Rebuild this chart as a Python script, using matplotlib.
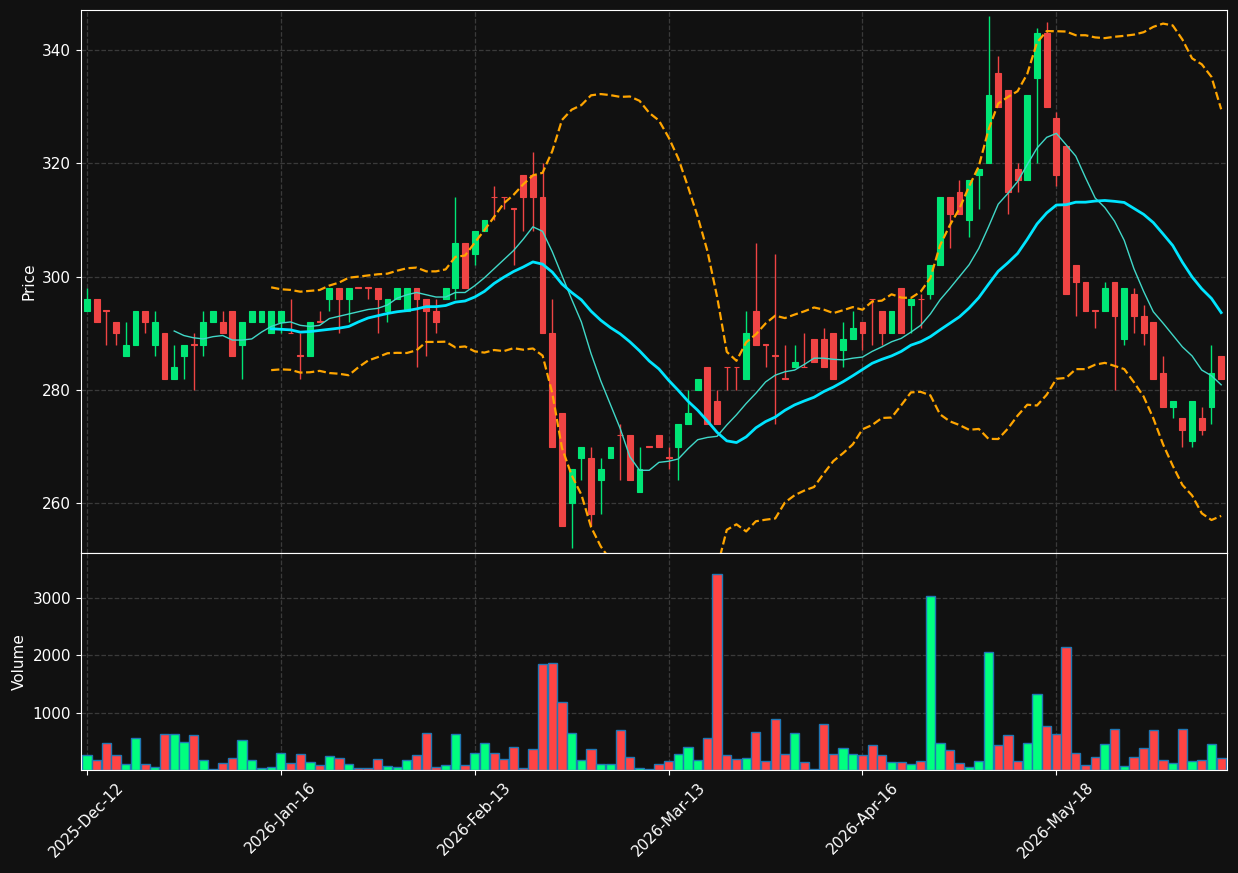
import matplotlib
matplotlib.use("Agg")
import matplotlib.pyplot as plt
import numpy as np
import pandas as pd

# OHLCV, one entry per candle
opens = [294, 296, 294.1, 292, 286, 288, 294, 288, 290, 282,
         286, 288.1, 288, 292, 292, 294, 288, 292, 292, 290,
         292, 290.1, 286.1, 286, 292.1, 296, 298, 296, 298.1, 298.1,
         298, 294, 296, 294, 298, 296, 294, 296, 298, 306,
         304, 308, 314.1, 314.1, 312.1, 318, 318, 314, 290, 276,
         260, 268, 268, 264, 268, 272.1, 272, 262, 270.1, 272,
         268.1, 270, 274, 280, 284, 278, 284.1, 284.1, 282, 294,
         288.1, 286.1, 282.1, 284, 284.1, 289, 289, 290, 287, 289,
         292, 296.1, 294, 290, 298, 295, 296.1, 297, 302, 314,
         315, 310, 318, 320, 336, 333, 319, 317, 335, 343,
         328, 323, 302, 299, 294.1, 294, 299, 289, 297, 293,
         292, 283, 277, 275, 271, 275, 277, 286]
highs = [298, 296, 294.1, 292, 292, 294, 294, 294, 290, 288,
         288, 290, 294, 294, 294, 294, 292, 294, 294, 294,
         294, 296, 290, 292, 294, 298, 298, 298, 298.1, 298.1,
         298, 296, 298, 298, 298, 296, 296, 298, 314, 306,
         308, 310, 316, 314.1, 312.1, 318, 322, 320, 296, 276,
         266, 270, 270, 268, 270, 274, 272, 270, 270.1, 272,
         270, 274, 280, 282, 284, 280, 284.1, 284.1, 294, 306,
         288.1, 304, 288, 288, 290, 289, 291, 290, 292, 294,
         292, 296.1, 294, 294, 298, 296, 297, 302, 314, 314,
         317, 317, 319, 346, 339, 333, 320, 332, 344, 345,
         329, 323, 302, 299, 294.1, 299, 299, 298, 298, 295,
         292, 286, 278, 275, 278, 277, 288, 286]
lows = [294, 292, 288, 288, 286, 288, 290, 286, 282, 282,
        282, 280, 286, 292, 290, 286, 282, 292, 292, 290,
        290, 290, 282, 286, 292, 294, 290, 292, 298, 296,
        290, 292, 296, 294, 284, 286, 290, 296, 296, 298,
        302, 308, 310, 312, 302, 308, 308, 290, 270, 256,
        252, 264, 256, 258, 268, 264, 264, 262, 270, 270,
        266, 264, 274, 280, 274, 274, 280, 280, 282, 288,
        284, 274, 282, 284, 284, 285, 284, 282, 284, 289,
        287, 288, 288, 290, 290, 290, 291, 296, 302, 305,
        311, 307, 312, 320, 330, 311, 315, 317, 320, 330,
        316, 297, 293, 294, 291, 294, 280, 288, 290, 288,
        282, 277, 275, 270, 270, 272, 274, 282]
closes = [296, 292, 294, 290, 288, 294, 292, 292, 282, 284,
          288, 288, 292, 294, 290, 286, 292, 294, 294, 294,
          294, 290, 286, 292, 292, 298, 296, 298, 298, 298,
          296, 296, 298, 298, 296, 294, 292, 298, 306, 298,
          308, 310, 314, 314, 312, 314, 314, 290, 270, 256,
          266, 270, 258, 266, 270, 272, 264, 266, 270, 270,
          268, 274, 276, 282, 274, 274, 284, 284, 290, 288,
          288, 286, 282, 285, 284, 285, 284, 282, 289, 291,
          290, 296, 290, 294, 290, 296, 296, 302, 314, 311,
          311, 317, 319, 332, 330, 315, 317, 332, 343, 330,
          318, 297, 299, 294, 294, 298, 293, 298, 293, 290,
          282, 277, 278, 273, 278, 273, 283, 282]
volumes = [255, 168, 464, 255, 99, 551, 99, 46, 620, 620,
           481, 603, 168, 12, 116, 203, 516, 168, 29, 46,
           290, 116, 273, 133, 81, 238, 203, 99, 29, 29,
           186, 64, 46, 168, 255, 638, 46, 81, 620, 81,
           290, 464, 290, 186, 394, 29, 360, 1839, 1873, 1177,
           638, 168, 360, 99, 99, 690, 220, 29, 12, 99,
           151, 273, 394, 168, 551, 3422, 255, 186, 203, 655,
           151, 882, 273, 638, 133, 12, 795, 273, 377, 273,
           255, 429, 255, 133, 133, 99, 151, 3039, 464, 342,
           116, 46, 151, 2065, 429, 603, 151, 464, 1317, 760,
           620, 2146, 290, 81, 220, 447, 708, 64, 220, 377,
           690, 168, 116, 708, 151, 168, 447, 203]

tick_pos = [0, 20, 40, 60, 80, 100]
tick_labels = ["2025-Dec-12", "2026-Jan-16", "2026-Feb-13",
               "2026-Mar-13", "2026-Apr-16", "2026-May-18"]

bg = "#111111"
up_c, down_c = "#00e676", "#ef4444"
vup_c, vdown_c = "#00ff7f", "#ff4444"

df = pd.DataFrame({"Open": opens, "High": highs, "Low": lows,
                   "Close": closes, "Volume": volumes})
x = np.arange(len(df))
is_up = df["Close"] >= df["Open"]
ccol = np.where(is_up, up_c, down_c)
vcol = np.where(is_up, vup_c, vdown_c)

ma10 = df["Close"].rolling(10).mean()
ma20 = df["Close"].rolling(20).mean()
sd20 = df["Close"].rolling(20).std(ddof=0)
bb_up = ma20 + 2 * sd20
bb_lo = ma20 - 2 * sd20

fig = plt.figure(figsize=(12.38, 8.73), dpi=100, facecolor=bg)
ax1 = fig.add_axes([0.0654, 0.3666, 0.9257, 0.622])
ax2 = fig.add_axes([0.0654, 0.118, 0.9257, 0.2486], sharex=ax1)

for ax in (ax1, ax2):
    ax.set_facecolor(bg)
    ax.grid(True, linestyle="--", color="#3a3a3a", linewidth=0.9)
    ax.set_axisbelow(True)
    for s in ax.spines.values():
        s.set_color("white")
    ax.tick_params(colors="white", labelsize=11)

# candles
ax1.vlines(x, df["Low"], df["High"], colors=ccol, linewidth=1)
body_h = np.maximum((df["Close"] - df["Open"]).abs(), 0.05)
body_b = np.minimum(df["Open"], df["Close"])
ax1.bar(x, body_h, bottom=body_b, width=0.6, color=ccol,
        edgecolor=ccol, linewidth=0.8)

ax1.plot(x, ma10, color="#40d8c8", linewidth=1)
ax1.plot(x, ma20, color="#00e5ff", linewidth=2)
ax1.plot(x, bb_up, color="#ffa500", linewidth=1.6, linestyle="--")
ax1.plot(x, bb_lo, color="#ffa500", linewidth=1.6, linestyle="--")

ax1.set_ylim(251.2, 347.1)
ax1.set_yticks([260, 280, 300, 320, 340])
ax1.set_ylabel("Price", color="white", fontsize=11)
ax1.tick_params(axis="x", labelbottom=False, length=0)

# volume
ax2.bar(x, df["Volume"], width=0.95, color=vcol, edgecolor="#1f77b4",
        linewidth=1)
ax2.set_ylim(0, 3783)
ax2.set_yticks([1000, 2000, 3000])
ax2.set_ylabel("Volume", color="white", fontsize=11)

ax2.set_xlim(-0.62, len(df) - 1 + 0.6)
ax2.set_xticks(tick_pos)
ax2.set_xticklabels(tick_labels, rotation=45, ha="center")

plt.savefig("out.png", dpi=100, facecolor=bg)
